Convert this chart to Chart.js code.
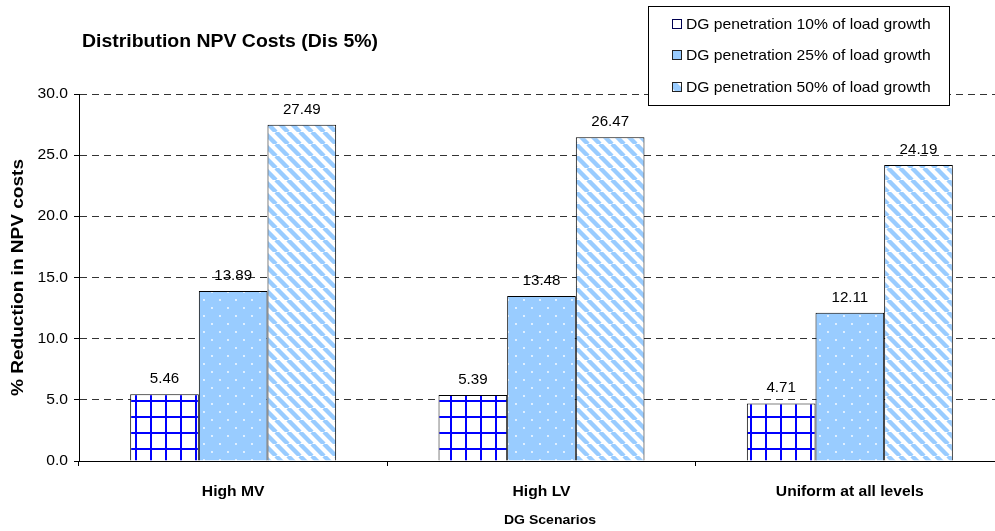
<!DOCTYPE html>
<html>
<head>
<meta charset="utf-8">
<script src="https://cdn.jsdelivr.net/npm/chart.js@4/dist/chart.umd.min.js"></script>
<style>
  html, body { margin: 0; padding: 0; overflow: hidden; background: #fff; }
  #wrap { width: 995px; height: 531px; overflow: hidden; position: relative; }
  canvas { display: block; }
</style>
</head>
<body>
<div id="wrap"><canvas id="c" width="1010" height="531"></canvas></div>
<script>
// Data
const scenarios = ['High MV', 'High LV', 'Uniform at all levels'];
const seriesNames = [
  'DG penetration 10% of load growth',
  'DG penetration 25% of load growth',
  'DG penetration 50% of load growth'
];
const pen10 = [5.46, 5.39, 4.71];
const pen25 = [13.89, 13.48, 12.11];
const pen50 = [27.49, 26.47, 24.19];
const yTicks = [0, 5, 10, 15, 20, 25, 30];

const chartTitle = 'Distribution NPV Costs (Dis 5%)';
const yTitle = '% Reduction in NPV costs';
const xTitle = 'DG Scenarios';

const FONT = '"Liberation Sans", Arial, Helvetica, sans-serif';
const SX = 1.08; // slightly widened lettering

// Fill patterns
function tile(w, h, paint) {
  const c = document.createElement('canvas');
  c.width = w; c.height = h;
  paint(c.getContext('2d'), w, h);
  return c.getContext('2d').createPattern(c, 'repeat');
}
const gridPattern = tile(15, 16, (g, w, h) => {
  g.fillStyle = '#fff'; g.fillRect(0, 0, w, h);
  g.fillStyle = '#0000ff';
  g.fillRect(0, 0, 2, h);
  g.fillRect(0, 0, w, 2);
});
const dotPattern = tile(16, 16, (g, w, h) => {
  g.fillStyle = '#99ccff'; g.fillRect(0, 0, w, h);
  g.fillStyle = '#ffffff';
  [[4, 4], [12, 12]].forEach(([x, y]) => {
    g.beginPath(); g.arc(x, y, 0.9, 0, Math.PI * 2); g.fill();
  });
});
const stripePattern = tile(12, 12, (g, w, h) => {
  g.fillStyle = '#fff'; g.fillRect(0, 0, w, h);
  g.strokeStyle = '#99ccff'; g.lineWidth = 4.4;
  for (let k = -1; k <= 1; k++) {
    g.beginPath(); g.moveTo(k * w, 0); g.lineTo(k * w + w, h); g.stroke();
  }
});
const fills = [gridPattern, dotPattern, stripePattern];

// small legend swatch fills
const swatchFills = ['#ffffff', '#99ccff', null];

function drawText(ctx, s, x, y, opt) {
  ctx.save();
  ctx.translate(x, y);
  if (opt.rot) ctx.rotate(opt.rot);
  ctx.scale(opt.sx || SX, 1);
  ctx.font = (opt.bold ? 'bold ' : '') + opt.size + 'px ' + FONT;
  ctx.fillStyle = opt.color || '#000';
  ctx.textAlign = opt.align || 'left';
  ctx.textBaseline = opt.base || 'alphabetic';
  ctx.fillText(s, 0, 0);
  ctx.restore();
}

const textPlugin = {
  id: 'texts',
  afterDatasetsDraw(chart) {
    const ctx = chart.ctx;
    // value labels above bars
    chart.data.datasets.forEach((ds, di) => {
      const meta = chart.getDatasetMeta(di);
      meta.data.forEach((bar, i) => {
        drawText(ctx, ds.data[i].toFixed(2), bar.x, bar.y - 11, { size: 14, align: 'center' });
      });
    });
  },
  afterDraw(chart) {
    const ctx = chart.ctx;
    const ys = chart.scales.y, xs = chart.scales.x;
    // y tick labels
    ys.ticks.forEach(t => {
      drawText(ctx, t.value.toFixed(1), 68, ys.getPixelForValue(t.value), { size: 14.5, align: 'right', base: 'middle' });
    });
    // category labels
    chart.data.labels.forEach((lab, i) => {
      drawText(ctx, lab, xs.getPixelForValue(i), 496, { size: 14.5, bold: true, align: 'center', sx: 1.08 });
    });
    // axis titles
    drawText(ctx, xTitle, 550, 524, { size: 13, bold: true, align: 'center' });
    drawText(ctx, yTitle, 19, (ys.top + ys.bottom) / 2, { size: 16, bold: true, align: 'center', base: 'middle', rot: -Math.PI / 2, sx: 1.19 });
    // chart title
    drawText(ctx, chartTitle, 82, 47, { size: 18, bold: true });
    // legend box
    ctx.save();
    ctx.fillStyle = '#fff';
    ctx.fillRect(648, 6, 302, 100);
    ctx.strokeStyle = '#000'; ctx.lineWidth = 1;
    ctx.strokeRect(648.5, 6.5, 301, 99);
    const rowY = [24, 55, 87];
    chart.data.datasets.forEach((ds, i) => {
      const x0 = 672, y0 = rowY[i] - 4;
      if (swatchFills[i]) {
        ctx.fillStyle = swatchFills[i];
        ctx.fillRect(x0, y0, 9, 9);
      } else {
        ctx.fillStyle = '#fff';
        ctx.fillRect(x0, y0, 9, 9);
        ctx.fillStyle = '#99ccff';
        ctx.beginPath();
        ctx.moveTo(x0, y0); ctx.lineTo(x0 + 5, y0); ctx.lineTo(x0 + 9, y0 + 4);
        ctx.lineTo(x0 + 9, y0 + 9); ctx.lineTo(x0 + 4, y0 + 9); ctx.lineTo(x0, y0 + 5);
        ctx.closePath(); ctx.fill();
      }
      ctx.strokeStyle = i === 0 ? '#000050' : '#222';
      ctx.strokeRect(x0 + 0.5, y0 - 0.5, 9, 9);
      drawText(ctx, ds.label, 686, rowY[i] + 5, { size: 14.5 });
    });
    ctx.restore();
  }
};

new Chart(document.getElementById('c'), {
  type: 'bar',
  data: {
    labels: scenarios,
    datasets: [pen10, pen25, pen50].map((vals, i) => ({
      label: seriesNames[i],
      data: vals,
      backgroundColor: fills[i],
      borderColor: '#000',
      borderWidth: 1,
      borderSkipped: 'bottom'
    }))
  },
  options: {
    responsive: false,
    animation: false,
    devicePixelRatio: 1,
    layout: { padding: { top: 94, left: 0, right: 6, bottom: 0 } },
    datasets: { bar: { categoryPercentage: 0.668, barPercentage: 1.0 } },
    plugins: { legend: { display: false }, tooltip: { enabled: false }, title: { display: false } },
    scales: {
      x: {
        ticks: { display: false },
        grid: { offset: true, drawOnChartArea: false, drawTicks: true, tickLength: 5, color: '#000', tickColor: '#000' },
        border: { display: true, color: '#000', width: 1 },
        afterFit(s) { s.height = 70; }
      },
      y: {
        min: 0, max: 30,
        afterBuildTicks(s) { s.ticks = yTicks.map(v => ({ value: v })); },
        ticks: { display: false },
        grid: { color: '#333', tickColor: '#000', drawTicks: true, tickLength: 5, tickBorderDash: [] },
        border: { display: true, color: '#000', width: 1, dash: [7, 5] },
        afterFit(s) { s.width = 79; }
      }
    }
  },
  plugins: [textPlugin]
});
</script>
</body>
</html>
